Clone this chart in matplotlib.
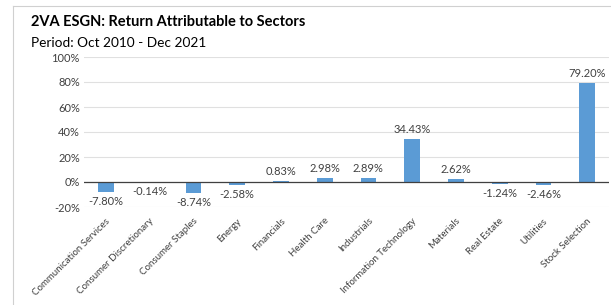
import matplotlib
matplotlib.use("Agg")
import matplotlib.pyplot as plt
from matplotlib.lines import Line2D
import matplotlib.transforms as mtransforms

categories = ["Communication Services", "Consumer Discretionary", "Consumer Staples",
              "Energy", "Financials", "Health Care", "Industrials",
              "Information Technology", "Materials", "Real Estate", "Utilities",
              "Stock Selection"]
values = [-7.80, -0.14, -8.74, -2.58, 0.83, 2.98, 2.89, 34.43, 2.62, -1.24, -2.46, 79.20]
yticks = [-20, 0, 20, 40, 60, 80, 100]

plt.rcParams['font.family'] = ['Lato', 'DejaVu Sans']

fig = plt.figure(figsize=(6.11, 3.05), dpi=100)
ax = fig.add_axes([84/611, 1-207/305, (609-84)/611, 150/305])

x = list(range(len(categories)))
ax.bar(x, values, width=0.36, color="#5B9BD5", zorder=3)
ax.set_xlim(-0.5, len(categories)-0.5)
ax.set_ylim(-20, 100)
ax.set_yticks(yticks)
ax.set_yticklabels([f"{v}%" for v in yticks], fontsize=8, color="#404040")
ax.grid(axis="y", color="#E0E0E0", linewidth=0.8, zorder=0)
ax.axhline(0, color="#404040", linewidth=0.9, zorder=4)
ax.set_xticks(x)
ax.set_xticklabels(categories, rotation=45, ha="right", va="center",
                   rotation_mode="anchor", fontsize=7.0, color="#404040")
ax.tick_params(axis="both", length=0, pad=3)
ax.tick_params(axis="x", pad=9)
offset = mtransforms.ScaledTranslation(2/72, 0, fig.dpi_scale_trans)
for lbl in ax.get_xticklabels():
    lbl.set_transform(lbl.get_transform() + offset)
for s in ax.spines.values():
    s.set_visible(False)

for xi, v in zip(x, values):
    if v >= 0:
        ax.annotate(f"{v:.2f}%", (xi, v), xytext=(0, 3), textcoords="offset points",
                    ha="center", va="bottom", fontsize=8, color="#404040")
    else:
        ax.annotate(f"{v:.2f}%", (xi, v), xytext=(0, -3), textcoords="offset points",
                    ha="center", va="top", fontsize=8, color="#404040")

fig.text(31/611, 1-22/305, "2VA ESGN: Return Attributable to Sectors", fontsize=10.5,
         fontweight="bold", color="#000000", va="center", ha="left")
fig.text(31/611, 1-43/305, "Period: Oct 2010 - Dec 2021", fontsize=9.8,
         color="#000000", va="center", ha="left")

fig.add_artist(Line2D([13/611, 13/611], [0, 1-6/305], transform=fig.transFigure,
                      color="#D0D0D0", linewidth=0.8))
fig.add_artist(Line2D([13/611, 1], [1-6/305, 1-6/305], transform=fig.transFigure,
                      color="#D0D0D0", linewidth=0.8))

fig.savefig("out.png", dpi=100)
